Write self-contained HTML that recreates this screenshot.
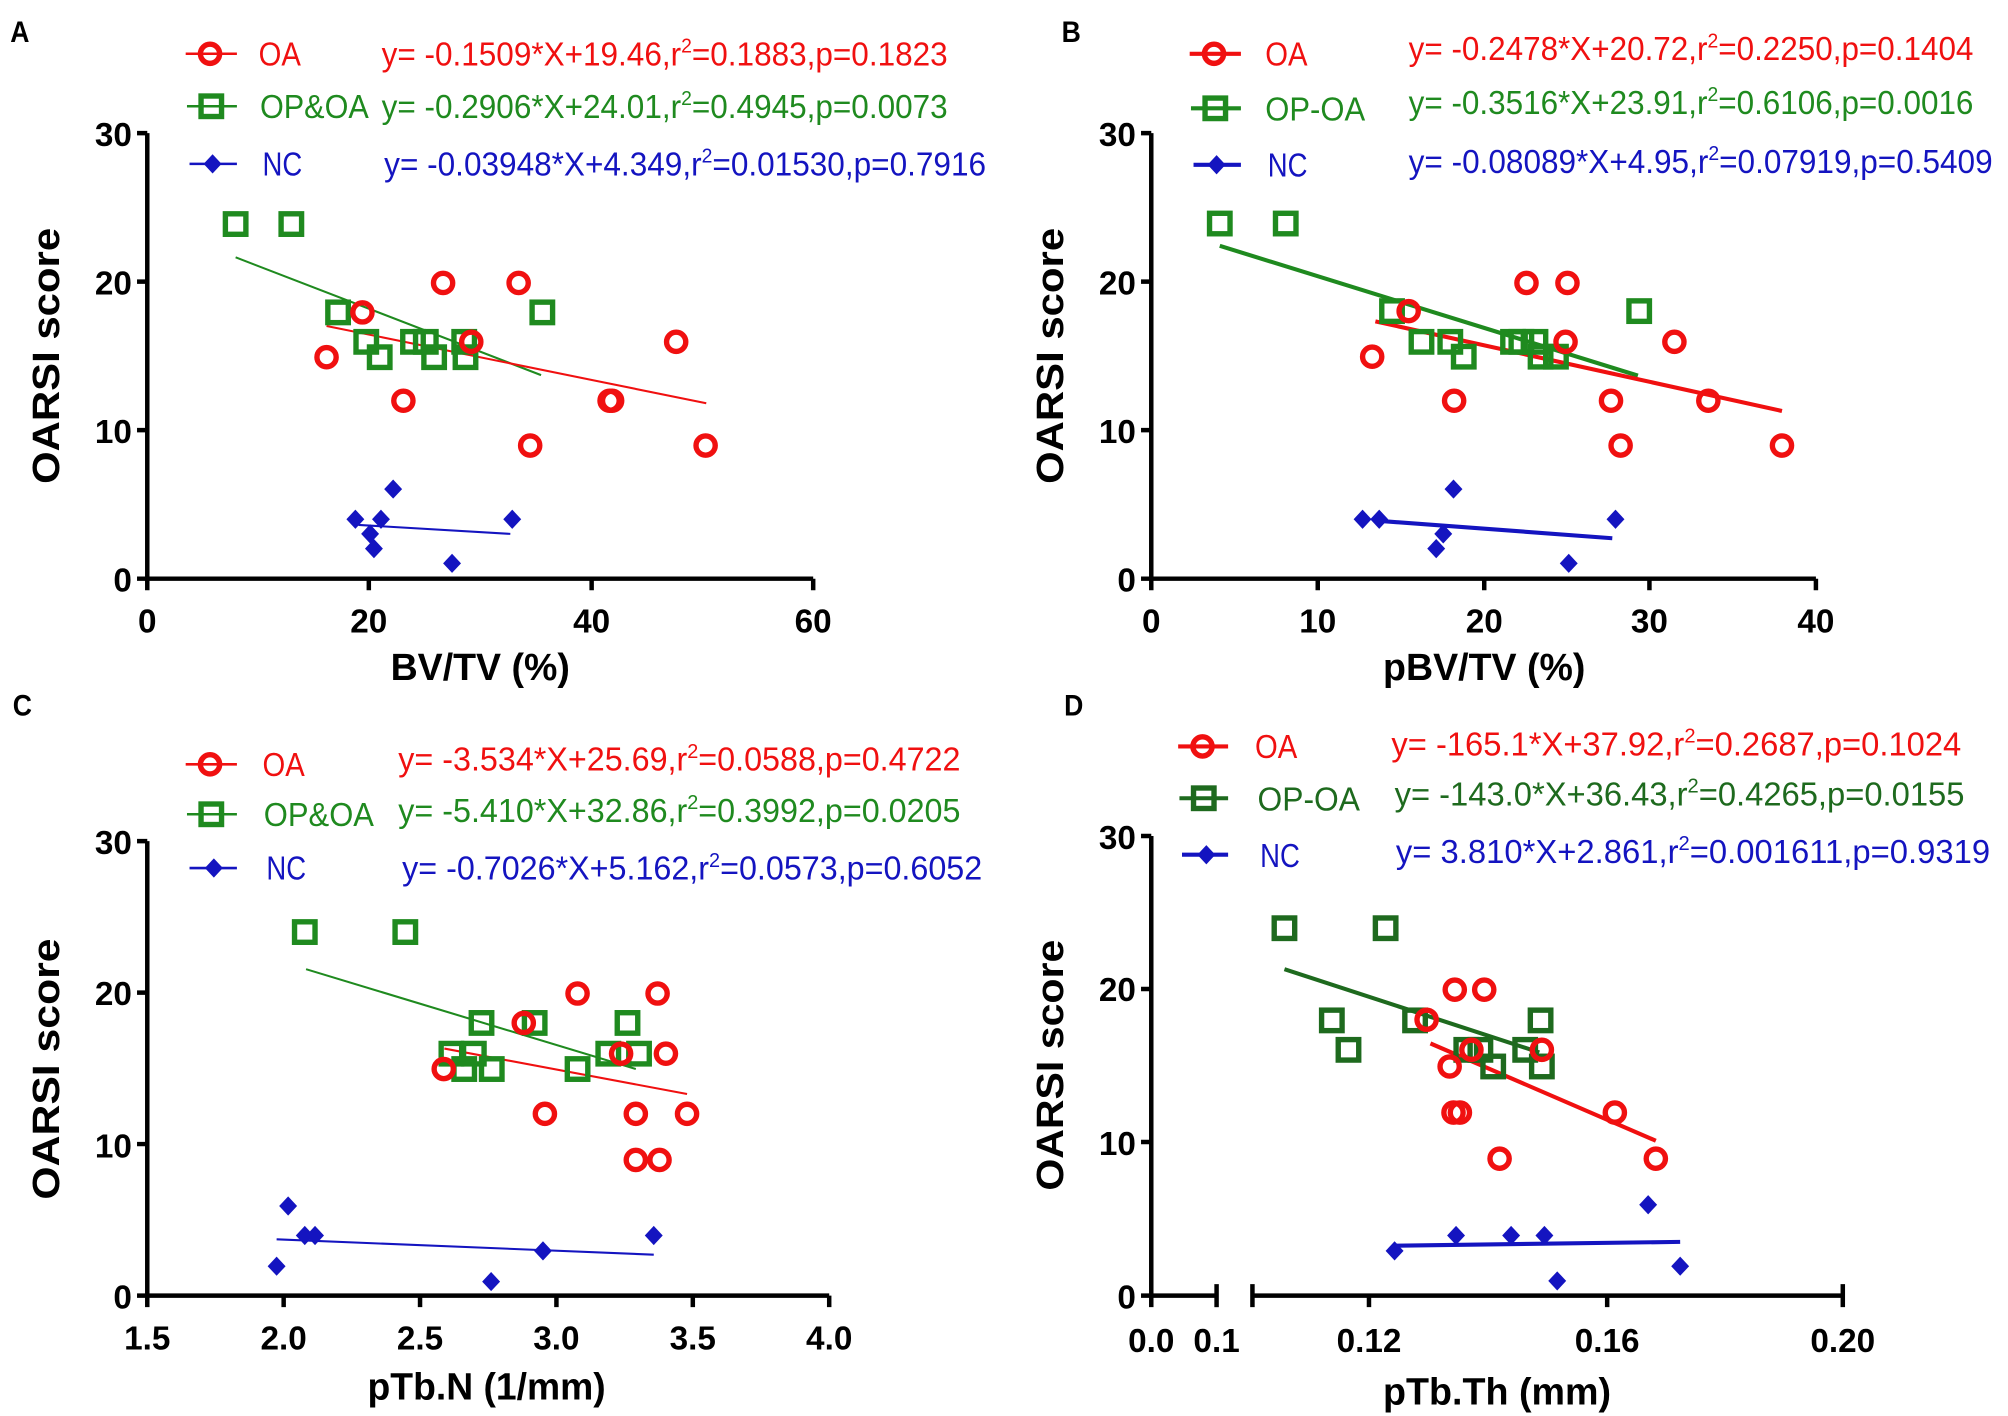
<!DOCTYPE html>
<html><head><meta charset="utf-8"><style>
html,body{margin:0;padding:0;background:#fff;}
svg{display:block;}
text{font-family:"Liberation Sans",Arial,sans-serif;}
.t{font-weight:bold;font-size:26px;}
.yl{font-weight:bold;font-size:30px;}
.xl{font-weight:bold;font-size:30px;}
.ttl{font-weight:bold;font-size:23px;}
.lg{font-size:26px;}
</style></head><body>
<svg width="2008" height="1416" viewBox="0 0 1568 1106" preserveAspectRatio="none" xmlns="http://www.w3.org/2000/svg">
<defs>
<circle id="cr" cx="0" cy="0" r="7.5" fill="none" stroke="#f01010" stroke-width="4.2"/>
<rect id="sg" x="-8" y="-8" width="16" height="16" fill="none" stroke="#1f8a1f" stroke-width="4.2"/>
<rect id="sd" x="-8" y="-8" width="16" height="16" fill="none" stroke="#1e6a1e" stroke-width="4.2"/>
<path id="bd" d="M0,-7.5 L7,0 L0,7.5 L-7,0 Z" fill="#1414c0"/>
</defs>
<rect width="1568" height="1106" fill="#fff"/>

<text class="ttl" x="8" y="33" textLength="15" lengthAdjust="spacingAndGlyphs">A</text>
<text class="ttl" x="829" y="33" textLength="15" lengthAdjust="spacingAndGlyphs">B</text>
<text class="ttl" x="10" y="559" textLength="15" lengthAdjust="spacingAndGlyphs">C</text>
<text class="ttl" x="831" y="559" textLength="15" lengthAdjust="spacingAndGlyphs">D</text>

<!-- ============ PANEL A ============ -->
<g stroke="#000" stroke-width="3.5" fill="none">
<path d="M115,104 V452 H635"/>
<path d="M107,104 H115 M107,220 H115 M107,336 H115 M107,452 H115"/>
<path d="M115,452 V461 M288,452 V461 M462,452 V461 M635,452 V461"/>
</g>
<g class="t" text-anchor="end"><text x="103" y="114">30</text><text x="103" y="230">20</text><text x="103" y="346">10</text><text x="103" y="462">0</text></g>
<g class="t" text-anchor="middle"><text x="115" y="494">0</text><text x="288" y="494">20</text><text x="462" y="494">40</text><text x="635" y="494">60</text></g>
<text class="yl" transform="translate(46,278) rotate(-90)" text-anchor="middle" textLength="200" lengthAdjust="spacingAndGlyphs">OARSI score</text>
<text class="xl" x="375" y="531" text-anchor="middle" textLength="140" lengthAdjust="spacingAndGlyphs">BV/TV (%)</text>
<line x1="184" y1="201" x2="422.5" y2="293" stroke="#1f8a1f" stroke-width="1.6"/>
<line x1="255" y1="254.6" x2="551.5" y2="315" stroke="#f01010" stroke-width="1.6"/>
<line x1="280" y1="410" x2="398.5" y2="417" stroke="#1414c0" stroke-width="1.6"/>
<use href="#sg" x="184" y="175"/><use href="#sg" x="227.5" y="175"/><use href="#sg" x="264" y="244"/><use href="#sg" x="286" y="267"/><use href="#sg" x="296.5" y="279"/><use href="#sg" x="322.5" y="267"/><use href="#sg" x="332.5" y="267"/><use href="#sg" x="339" y="279"/><use href="#sg" x="362.5" y="267"/><use href="#sg" x="363.5" y="279"/><use href="#sg" x="423.5" y="244"/>
<use href="#cr" x="255" y="279"/><use href="#cr" x="283" y="244"/><use href="#cr" x="315" y="313"/><use href="#cr" x="346" y="221"/><use href="#cr" x="368" y="267"/><use href="#cr" x="405" y="221"/><use href="#cr" x="414" y="348"/><use href="#cr" x="476" y="313"/><use href="#cr" x="478" y="313"/><use href="#cr" x="528" y="267"/><use href="#cr" x="551" y="348"/>
<use href="#bd" x="277.5" y="405.6"/><use href="#bd" x="289" y="417"/><use href="#bd" x="292" y="428.5"/><use href="#bd" x="297.5" y="405.6"/><use href="#bd" x="307" y="382"/><use href="#bd" x="353" y="440"/><use href="#bd" x="400" y="405.6"/>
<line x1="145" y1="42" x2="185" y2="42" stroke="#f01010" stroke-width="2"/><use href="#cr" x="164" y="42"/>
<line x1="146" y1="83" x2="185" y2="83" stroke="#1f8a1f" stroke-width="2"/><use href="#sg" x="165" y="83"/>
<line x1="148" y1="128" x2="185" y2="128" stroke="#1414c0" stroke-width="2"/><use href="#bd" x="166" y="128"/>
<text class="lg" x="202" y="51" fill="#f01010" textLength="33" lengthAdjust="spacingAndGlyphs">OA</text>
<text class="lg" x="203" y="92" fill="#1f8a1f" textLength="85" lengthAdjust="spacingAndGlyphs">OP&amp;OA</text>
<text class="lg" x="205" y="137" fill="#1414c0" textLength="31" lengthAdjust="spacingAndGlyphs">NC</text>
<text class="lg" x="298" y="51" fill="#f01010" textLength="442" lengthAdjust="spacingAndGlyphs">y= -0.1509*X+19.46,r<tspan dy="-10" font-size="16">2</tspan><tspan dy="10">=0.1883,p=0.1823</tspan></text>
<text class="lg" x="298" y="92" fill="#1f8a1f" textLength="442" lengthAdjust="spacingAndGlyphs">y= -0.2906*X+24.01,r<tspan dy="-10" font-size="16">2</tspan><tspan dy="10">=0.4945,p=0.0073</tspan></text>
<text class="lg" x="300" y="137" fill="#1414c0" textLength="470" lengthAdjust="spacingAndGlyphs">y= -0.03948*X+4.349,r<tspan dy="-10" font-size="16">2</tspan><tspan dy="10">=0.01530,p=0.7916</tspan></text>

<!-- ============ PANEL B ============ -->
<g stroke="#000" stroke-width="3.5" fill="none">
<path d="M899,104 V452 H1418"/>
<path d="M891,104 H899 M891,220 H899 M891,336 H899 M891,452 H899"/>
<path d="M899,452 V461 M1029,452 V461 M1159,452 V461 M1288,452 V461 M1418,452 V461"/>
</g>
<g class="t" text-anchor="end"><text x="887" y="114">30</text><text x="887" y="230">20</text><text x="887" y="346">10</text><text x="887" y="462">0</text></g>
<g class="t" text-anchor="middle"><text x="899" y="494">0</text><text x="1029" y="494">10</text><text x="1159" y="494">20</text><text x="1288" y="494">30</text><text x="1418" y="494">40</text></g>
<text class="yl" transform="translate(830,278) rotate(-90)" text-anchor="middle" textLength="200" lengthAdjust="spacingAndGlyphs">OARSI score</text>
<text class="xl" x="1159" y="531" text-anchor="middle" textLength="158" lengthAdjust="spacingAndGlyphs">pBV/TV (%)</text>
<line x1="952.5" y1="192" x2="1279" y2="293.4" stroke="#1f8a1f" stroke-width="3.2"/>
<line x1="1074" y1="251" x2="1391.5" y2="321" stroke="#f01010" stroke-width="3.2"/>
<line x1="1079" y1="407" x2="1259" y2="420.4" stroke="#1414c0" stroke-width="3.2"/>
<use href="#sg" x="952.5" y="174.6"/><use href="#sg" x="1004" y="174.6"/><use href="#sg" x="1087" y="243"/><use href="#sg" x="1110" y="267"/><use href="#sg" x="1132.5" y="267"/><use href="#sg" x="1143" y="278.6"/><use href="#sg" x="1181.5" y="267"/><use href="#sg" x="1188" y="267"/><use href="#sg" x="1199" y="267"/><use href="#sg" x="1203" y="278.6"/><use href="#sg" x="1215" y="278.6"/><use href="#sg" x="1280" y="243"/>
<use href="#cr" x="1071.5" y="278.6"/><use href="#cr" x="1100" y="243"/><use href="#cr" x="1135.5" y="313"/><use href="#cr" x="1192" y="221"/><use href="#cr" x="1224" y="221"/><use href="#cr" x="1222.5" y="267"/><use href="#cr" x="1258" y="313"/><use href="#cr" x="1265.5" y="348"/><use href="#cr" x="1307.5" y="267"/><use href="#cr" x="1334" y="313"/><use href="#cr" x="1391.5" y="348"/>
<use href="#bd" x="1064" y="405.6"/><use href="#bd" x="1077" y="405.6"/><use href="#bd" x="1121.5" y="428.5"/><use href="#bd" x="1127" y="417"/><use href="#bd" x="1135" y="382"/><use href="#bd" x="1225" y="440"/><use href="#bd" x="1261.5" y="405.6"/>
<line x1="929" y1="42" x2="969" y2="42" stroke="#f01010" stroke-width="3.2"/><use href="#cr" x="948" y="42"/>
<line x1="930" y1="84.6" x2="969" y2="84.6" stroke="#1f8a1f" stroke-width="3.2"/><use href="#sg" x="949" y="84.6"/>
<line x1="932" y1="128.7" x2="969" y2="128.7" stroke="#1414c0" stroke-width="3.2"/><use href="#bd" x="950" y="128.7"/>
<text class="lg" x="988" y="51" fill="#f01010" textLength="33" lengthAdjust="spacingAndGlyphs">OA</text>
<text class="lg" x="988" y="94" fill="#1f8a1f" textLength="78" lengthAdjust="spacingAndGlyphs">OP-OA</text>
<text class="lg" x="990" y="138" fill="#1414c0" textLength="31" lengthAdjust="spacingAndGlyphs">NC</text>
<text class="lg" x="1100" y="47" fill="#f01010" textLength="441" lengthAdjust="spacingAndGlyphs">y= -0.2478*X+20.72,r<tspan dy="-10" font-size="16">2</tspan><tspan dy="10">=0.2250,p=0.1404</tspan></text>
<text class="lg" x="1100" y="89" fill="#1f8a1f" textLength="441" lengthAdjust="spacingAndGlyphs">y= -0.3516*X+23.91,r<tspan dy="-10" font-size="16">2</tspan><tspan dy="10">=0.6106,p=0.0016</tspan></text>
<text class="lg" x="1100" y="135" fill="#1414c0" textLength="456" lengthAdjust="spacingAndGlyphs">y= -0.08089*X+4.95,r<tspan dy="-10" font-size="16">2</tspan><tspan dy="10">=0.07919,p=0.5409</tspan></text>

<!-- ============ PANEL C ============ -->
<g stroke="#000" stroke-width="3.5" fill="none">
<path d="M115,657 V1012 H647.5"/>
<path d="M107,657 H115 M107,775.3 H115 M107,893.6 H115 M107,1012 H115"/>
<path d="M115,1012 V1021 M221.5,1012 V1021 M328,1012 V1021 M434.5,1012 V1021 M541,1012 V1021 M647.5,1012 V1021"/>
</g>
<g class="t" text-anchor="end"><text x="103" y="667">30</text><text x="103" y="785">20</text><text x="103" y="904">10</text><text x="103" y="1022">0</text></g>
<g class="t" text-anchor="middle"><text x="115" y="1054">1.5</text><text x="221.5" y="1054">2.0</text><text x="328" y="1054">2.5</text><text x="434.5" y="1054">3.0</text><text x="541" y="1054">3.5</text><text x="647.5" y="1054">4.0</text></g>
<text class="yl" transform="translate(46,835) rotate(-90)" text-anchor="middle" textLength="204" lengthAdjust="spacingAndGlyphs">OARSI score</text>
<text class="xl" x="380" y="1093" text-anchor="middle" textLength="186" lengthAdjust="spacingAndGlyphs">pTb.N (1/mm)</text>
<line x1="239" y1="757" x2="496.5" y2="835" stroke="#1f8a1f" stroke-width="1.6"/>
<line x1="347" y1="819" x2="536.5" y2="854.5" stroke="#f01010" stroke-width="1.6"/>
<line x1="216" y1="968" x2="510.5" y2="980" stroke="#1414c0" stroke-width="1.6"/>
<use href="#sg" x="238" y="728"/><use href="#sg" x="316.5" y="728"/><use href="#sg" x="376" y="799"/><use href="#sg" x="417.5" y="799"/><use href="#sg" x="490" y="799"/><use href="#sg" x="352.5" y="823"/><use href="#sg" x="370" y="823"/><use href="#sg" x="362.5" y="835"/><use href="#sg" x="384" y="835"/><use href="#sg" x="451" y="835"/><use href="#sg" x="475" y="823"/><use href="#sg" x="499" y="823"/>
<use href="#cr" x="346.5" y="835"/><use href="#cr" x="409" y="799"/><use href="#cr" x="451" y="776"/><use href="#cr" x="425.5" y="870"/><use href="#cr" x="485" y="823"/><use href="#cr" x="496.5" y="870"/><use href="#cr" x="496.5" y="906"/><use href="#cr" x="513.5" y="776"/><use href="#cr" x="520" y="823"/><use href="#cr" x="515" y="906"/><use href="#cr" x="536.5" y="870"/>
<use href="#bd" x="216" y="989"/><use href="#bd" x="225" y="942"/><use href="#bd" x="238" y="965"/><use href="#bd" x="246" y="965"/><use href="#bd" x="383.5" y="1001"/><use href="#bd" x="424" y="977"/><use href="#bd" x="510.5" y="965"/>
<line x1="145" y1="597" x2="185" y2="597" stroke="#f01010" stroke-width="2"/><use href="#cr" x="164" y="597"/>
<line x1="146" y1="636" x2="185" y2="636" stroke="#1f8a1f" stroke-width="2"/><use href="#sg" x="165" y="636"/>
<line x1="148" y1="678" x2="185" y2="678" stroke="#1414c0" stroke-width="2"/><use href="#bd" x="167" y="678"/>
<text class="lg" x="205" y="606" fill="#f01010" textLength="33" lengthAdjust="spacingAndGlyphs">OA</text>
<text class="lg" x="206" y="645" fill="#1f8a1f" textLength="86" lengthAdjust="spacingAndGlyphs">OP&amp;OA</text>
<text class="lg" x="208" y="687" fill="#1414c0" textLength="31" lengthAdjust="spacingAndGlyphs">NC</text>
<text class="lg" x="311" y="602" fill="#f01010" textLength="439" lengthAdjust="spacingAndGlyphs">y= -3.534*X+25.69,r<tspan dy="-10" font-size="16">2</tspan><tspan dy="10">=0.0588,p=0.4722</tspan></text>
<text class="lg" x="311" y="642" fill="#1f8a1f" textLength="439" lengthAdjust="spacingAndGlyphs">y= -5.410*X+32.86,r<tspan dy="-10" font-size="16">2</tspan><tspan dy="10">=0.3992,p=0.0205</tspan></text>
<text class="lg" x="314" y="687" fill="#1414c0" textLength="453" lengthAdjust="spacingAndGlyphs">y= -0.7026*X+5.162,r<tspan dy="-10" font-size="16">2</tspan><tspan dy="10">=0.0573,p=0.6052</tspan></text>

<!-- ============ PANEL D ============ -->
<g stroke="#000" stroke-width="3.5" fill="none">
<path d="M899,653 V1012 H950"/>
<path d="M950,1003 V1021"/>
<path d="M978,1003 V1021 M978,1012 H1439"/>
<path d="M891,653 H899 M891,772.5 H899 M891,892 H899 M891,1012 H899"/>
<path d="M899,1012 V1021 M1069,1012 V1021 M1255,1012 V1021 M1439,1003 V1021"/>
</g>
<g class="t" text-anchor="end"><text x="887" y="663">30</text><text x="887" y="782">20</text><text x="887" y="902">10</text><text x="887" y="1022">0</text></g>
<g class="t" text-anchor="middle"><text x="899" y="1056">0.0</text><text x="950" y="1056">0.1</text><text x="1069" y="1056">0.12</text><text x="1255" y="1056">0.16</text><text x="1439" y="1056">0.20</text></g>
<text class="yl" transform="translate(830,832) rotate(-90)" text-anchor="middle" textLength="196" lengthAdjust="spacingAndGlyphs">OARSI score</text>
<text class="xl" x="1169" y="1097" text-anchor="middle" textLength="178" lengthAdjust="spacingAndGlyphs">pTb.Th (mm)</text>
<line x1="1003" y1="757" x2="1202" y2="822" stroke="#1e6a1e" stroke-width="3.2"/>
<line x1="1117" y1="815" x2="1293" y2="891" stroke="#f01010" stroke-width="3.2"/>
<line x1="1089" y1="973" x2="1312" y2="970" stroke="#1414c0" stroke-width="3.2"/>
<use href="#sd" x="1003" y="725"/><use href="#sd" x="1082" y="725"/><use href="#sd" x="1040" y="797"/><use href="#sd" x="1053" y="820"/><use href="#sd" x="1105" y="797"/><use href="#sd" x="1145" y="820"/><use href="#sd" x="1156" y="820"/><use href="#sd" x="1166" y="833"/><use href="#sd" x="1191" y="820"/><use href="#sd" x="1203" y="797"/><use href="#sd" x="1204" y="833"/>
<use href="#cr" x="1114" y="796.5"/><use href="#cr" x="1136" y="773"/><use href="#cr" x="1159" y="773"/><use href="#cr" x="1149" y="820"/><use href="#cr" x="1204" y="820"/><use href="#cr" x="1132" y="833"/><use href="#cr" x="1135" y="869"/><use href="#cr" x="1140" y="869"/><use href="#cr" x="1171" y="905"/><use href="#cr" x="1261" y="869"/><use href="#cr" x="1293" y="905"/>
<use href="#bd" x="1089" y="977"/><use href="#bd" x="1137" y="965"/><use href="#bd" x="1180" y="965"/><use href="#bd" x="1206" y="965"/><use href="#bd" x="1216" y="1000.5"/><use href="#bd" x="1287" y="941"/><use href="#bd" x="1312" y="989"/>
<line x1="920" y1="583" x2="959" y2="583" stroke="#f01010" stroke-width="3.2"/><use href="#cr" x="939" y="583"/>
<line x1="921" y1="623.5" x2="959" y2="623.5" stroke="#1e6a1e" stroke-width="3.2"/><use href="#sd" x="940" y="623.5"/>
<line x1="923" y1="667.6" x2="959" y2="667.6" stroke="#1414c0" stroke-width="3.2"/><use href="#bd" x="942" y="667.6"/>
<text class="lg" x="980" y="592" fill="#f01010" textLength="33" lengthAdjust="spacingAndGlyphs">OA</text>
<text class="lg" x="982" y="633" fill="#1e6a1e" textLength="80" lengthAdjust="spacingAndGlyphs">OP-OA</text>
<text class="lg" x="984" y="677" fill="#1414c0" textLength="31" lengthAdjust="spacingAndGlyphs">NC</text>
<text class="lg" x="1086.5" y="590" fill="#f01010" textLength="445" lengthAdjust="spacingAndGlyphs">y= -165.1*X+37.92,r<tspan dy="-10" font-size="16">2</tspan><tspan dy="10">=0.2687,p=0.1024</tspan></text>
<text class="lg" x="1089" y="629" fill="#1e6a1e" textLength="445" lengthAdjust="spacingAndGlyphs">y= -143.0*X+36.43,r<tspan dy="-10" font-size="16">2</tspan><tspan dy="10">=0.4265,p=0.0155</tspan></text>
<text class="lg" x="1090" y="674" fill="#1414c0" textLength="464" lengthAdjust="spacingAndGlyphs">y= 3.810*X+2.861,r<tspan dy="-10" font-size="16">2</tspan><tspan dy="10">=0.001611,p=0.9319</tspan></text>
</svg>
</body></html>
